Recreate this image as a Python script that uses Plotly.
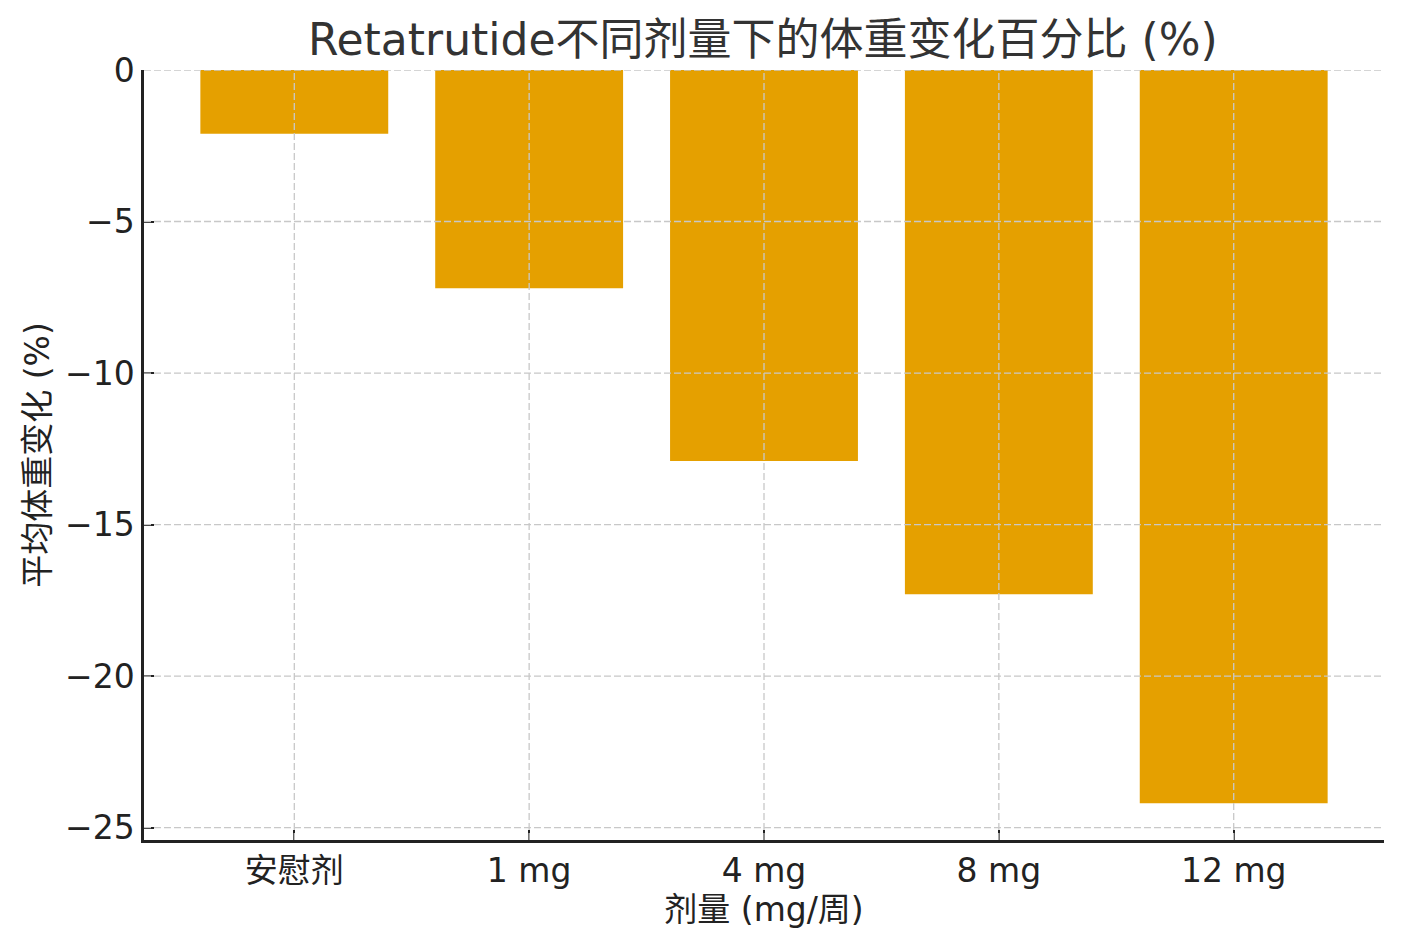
import plotly.graph_objects as go

categories = ["安慰剂", "1 mg", "4 mg", "8 mg", "12 mg"]
weight_change = [-2.1, -7.2, -12.9, -17.3, -24.2]
y_ticks = [0, -5, -10, -15, -20, -25]
y_tick_labels = ["0", "−5", "−10", "−15", "−20", "−25"]

title_text = "Retatrutide不同剂量下的体重变化百分比 (%)"
x_title = "剂量 (mg/周)"
y_title = "平均体重变化 (%)"

FONT = "DejaVu Sans, Noto Sans CJK SC, sans-serif"
GRID = "#c8c8c8"
DASH = "7px,3px"

fig = go.Figure()
fig.add_trace(go.Bar(
    x=list(range(len(categories))),
    y=weight_change,
    width=0.8,
    marker=dict(color="#E5A000", line=dict(width=0)),
))

# grid lines drawn above bars (as in reference)
for v in y_ticks:
    fig.add_shape(type="line", xref="paper", yref="y", x0=0, x1=1, y0=v, y1=v,
                  line=dict(color=GRID, width=1.3, dash=DASH), layer="above")
for i in range(len(categories)):
    fig.add_shape(type="line", xref="x", yref="paper", x0=i, x1=i, y0=0, y1=1,
                  line=dict(color=GRID, width=1.3, dash=DASH), layer="above")

fig.update_layout(
    width=1404, height=947,
    margin=dict(l=144, r=20, t=70, b=107),
    paper_bgcolor="white", plot_bgcolor="white",
    showlegend=False,
    font=dict(family=FONT, size=33, color="#222222"),
    title=dict(text=title_text, x=0.5433, xanchor="center", y=1 - 40 / 947, yanchor="middle",
               font=dict(family=FONT, size=44, color="#333333")),
    bargap=0.2,
)

fig.update_xaxes(
    range=[-0.64, 4.64],
    tickmode="array",
    tickvals=list(range(len(categories))),
    ticktext=categories,
    ticks="inside", ticklen=10, tickwidth=2, tickcolor="#222222",
    showline=True, linecolor="#222222", linewidth=2.5,
    showgrid=False,
    zeroline=False,
    ticklabelstandoff=0,
    tickfont=dict(size=33, color="#222222"),
    title=dict(text=x_title, standoff=8, font=dict(size=33, color="#222222")),
)

fig.update_yaxes(
    range=[-25.41, 0],
    tickmode="array",
    tickvals=y_ticks,
    ticktext=y_tick_labels,
    ticks="inside", ticklen=10, tickwidth=2, tickcolor="#222222",
    showline=True, linecolor="#222222", linewidth=2.5,
    showgrid=False,
    zeroline=False,
    ticklabelstandoff=0,
    tickfont=dict(size=33, color="#222222"),
    title=dict(text=y_title, standoff=6, font=dict(size=33, color="#222222")),
)

fig.write_html("out.html", config={"displayModeBar": False},
               post_script="document.body.style.margin='0';")
